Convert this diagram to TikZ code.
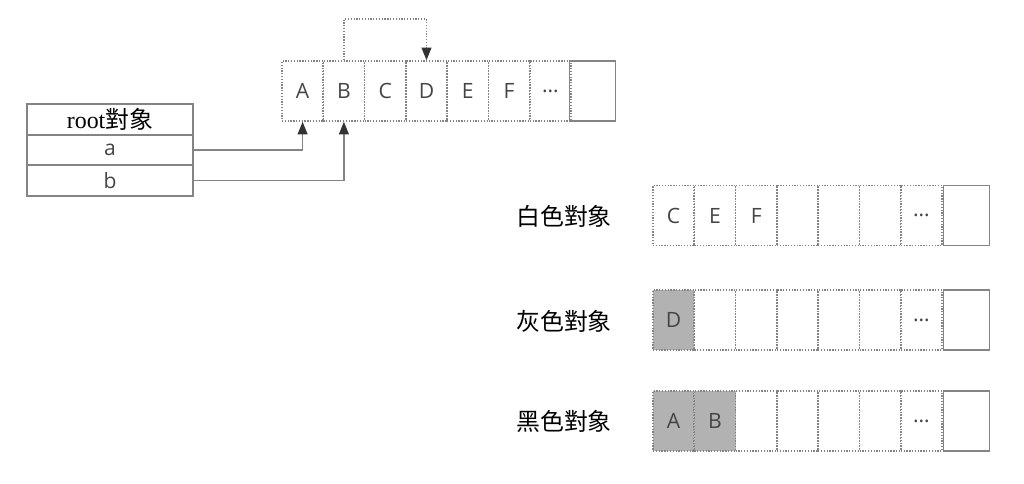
\documentclass[tikz,border=0pt]{standalone}
\usepackage{fontspec}
\setmainfont{Liberation Serif}
\setsansfont{Open Sans}
\newfontfamily\cjk{Noto Sans CJK TC}
\usetikzlibrary{arrows.meta,positioning}
\definecolor{linegray}{HTML}{848484}
\definecolor{markgray}{HTML}{B2B2B2}
\definecolor{textgray}{HTML}{454545}
\definecolor{tipgray}{HTML}{333333}

\tikzset{
  cell/.style={draw=linegray, dash pattern=on 0.9pt off 1.1pt, line width=1.1pt,
    minimum width=1.03cm, minimum height=1.5cm, inner sep=0pt, text=textgray,
    font=\sffamily\fontsize{15}{15}\selectfont},
  endcell/.style={cell, solid, minimum width=1.15cm},
  marked/.style={fill=markgray},
  field/.style={draw=linegray, line width=1.1pt, minimum width=4.15cm,
    minimum height=0.765cm, inner sep=0pt, text=black},
  setname/.style={font=\cjk\fontsize{17}{17}\selectfont, text=black},
  ref/.style={draw=linegray, line width=1.1pt,
    -{Triangle[length=9pt,width=7pt,color=tipgray]}},
  move/.style={ref, dash pattern=on 0.9pt off 1.1pt}
}

\begin{document}
\begin{tikzpicture}[x=0.025cm, y=-0.025cm]
\useasboundingbox (0,0) rectangle (1024,484);

% heap
\foreach \txt [count=\i] in {A,B,C,D,E,F,{\ldots}}
  \node[cell] (t\i) at ({302.6+41.3*(\i-1)},91) {\txt};
\node[endcell] (t8) at (592.5,91) {};

% root object
\node[field, font=\fontsize{17}{17}\selectfont] (r0) at (110,119.5) {root{\cjk 對象}};
\node[field, font=\sffamily\fontsize{15}{15}\selectfont, text=textgray] (r1) at (110,150) {a};
\node[field, font=\sffamily\fontsize{15}{15}\selectfont, text=textgray] (r2) at (110,180.5) {b};

\draw[ref] (r1.east) -| (t1.south);
\draw[ref] (r2.east) -| (t2.south);
\draw[move] (t2.north) -- ++(0,-41) -| (t4.north);

% color sets
\node[setname] (lw) at (564,216) {白色對象};
\node[setname] (lg) at (564,321) {灰色對象};
\node[setname] (lb) at (564,421) {黑色對象};

\foreach \txt [count=\i] in {C,E,F,{},{},{},{\ldots}}
  \node[cell] (w\i) at ({673.6+41.3*(\i-1)},215.5) {\txt};
\node[endcell] (w8) at (966.5,215.5) {};

\foreach \txt [count=\i] in {D,{},{},{},{},{},{\ldots}}
  \node[cell] (g\i) at ({673.6+41.3*(\i-1)},320) {\txt};
\node[endcell] (g8) at (966.5,320) {};
\node[cell, marked] (gD) at (g1) {D};

\foreach \txt [count=\i] in {A,B,{},{},{},{},{\ldots}}
  \node[cell] (k\i) at ({673.6+41.3*(\i-1)},421) {\txt};
\node[endcell] (k8) at (966.5,421) {};
\node[cell, marked] (kA) at (k1) {A};
\node[cell, marked] (kB) at (k2) {B};
\end{tikzpicture}
\end{document}
